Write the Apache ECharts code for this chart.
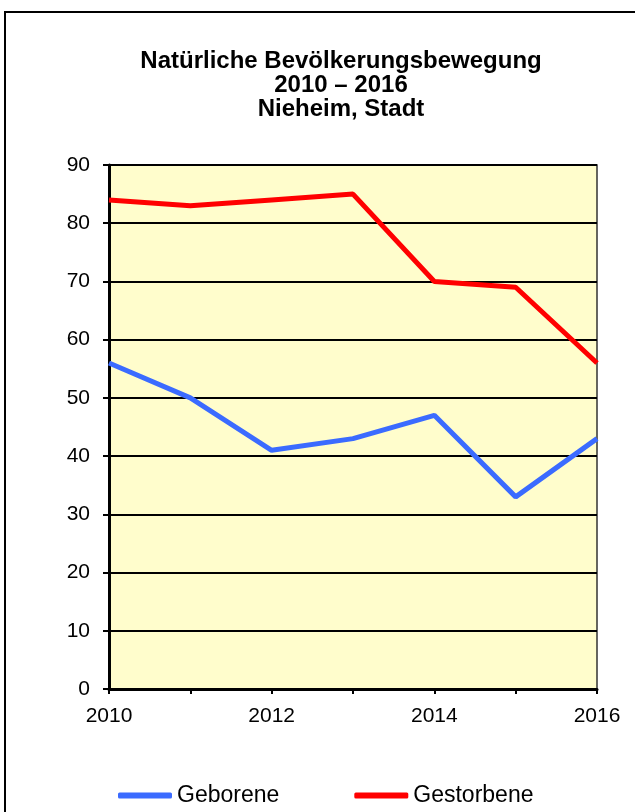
<!DOCTYPE html>
<html>
<head>
<meta charset="utf-8">
<script src="https://cdn.jsdelivr.net/npm/echarts@6/dist/echarts.min.js"></script>
<style>
  html, body { margin: 0; padding: 0; background: #fff; }
  #chart { width: 635px; height: 812px; }
</style>
</head>
<body>
<div id="chart"></div>
<script>
// data
const years = ['2010', '2011', '2012', '2013', '2014', '2015', '2016'];
const geborene = [56, 50, 41, 43, 47, 33, 43];
const gestorbene = [84, 83, 84, 85, 70, 69, 56];
const titleLines = ['Natürliche Bevölkerungsbewegung', '2010 – 2016', 'Nieheim, Stadt'];

const font = 'Liberation Sans, Arial, sans-serif';
const chart = echarts.init(document.getElementById('chart'), null, { renderer: 'canvas' });

chart.setOption({
  animation: false,
  backgroundColor: '#fff',
  title: {
    text: titleLines.join('\n'),
    left: 336,
    textAlign: 'center',
    top: 44,
    textStyle: {
      fontFamily: font,
      fontSize: 24,
      fontWeight: 'bold',
      color: '#000',
      lineHeight: 24
    }
  },
  graphic: [{
    type: 'rect',
    shape: { x: 5, y: 12, width: 700, height: 900 },
    style: { fill: 'none', stroke: '#000', lineWidth: 2 }
  }],
  legend: {
    left: 113,
    top: 779,
    itemWidth: 54,
    itemHeight: 6,
    itemGap: 75,
    icon: 'roundRect',
    textStyle: { fontFamily: font, fontSize: 23, color: '#000' },
    data: ['Geborene', 'Gestorbene']
  },
  grid: {
    left: 109,
    top: 165,
    right: 38,
    bottom: 123,
    show: true,
    backgroundColor: '#fffdcc',
    borderColor: '#333',
    borderWidth: 1.5
  },
  xAxis: {
    type: 'category',
    data: years,
    boundaryGap: false,
    axisLine: { lineStyle: { color: '#000', width: 3 } },
    axisTick: { show: true, interval: 0, length: 5, lineStyle: { color: '#000', width: 2 } },
    axisLabel: { interval: 1, color: '#000', fontFamily: font, fontSize: 21, margin: 17 },
    splitLine: { show: false }
  },
  yAxis: {
    type: 'value',
    min: 0,
    max: 90,
    interval: 10,
    axisLine: { show: true, lineStyle: { color: '#000', width: 3 } },
    axisTick: { show: true, length: 6, lineStyle: { color: '#000', width: 2 } },
    axisLabel: { color: '#000', fontFamily: font, fontSize: 21, margin: 19 },
    splitLine: { show: true, lineStyle: { color: '#000', width: 2 } }
  },
  series: [
    {
      name: 'Geborene',
      type: 'line',
      data: geborene,
      showSymbol: false,
      symbol: 'none',
      color: '#3b6bff',
      lineStyle: { color: '#3b6bff', width: 5 }
    },
    {
      name: 'Gestorbene',
      type: 'line',
      data: gestorbene,
      showSymbol: false,
      symbol: 'none',
      color: '#ff0000',
      lineStyle: { color: '#ff0000', width: 5 }
    }
  ]
});
</script>
</body>
</html>
